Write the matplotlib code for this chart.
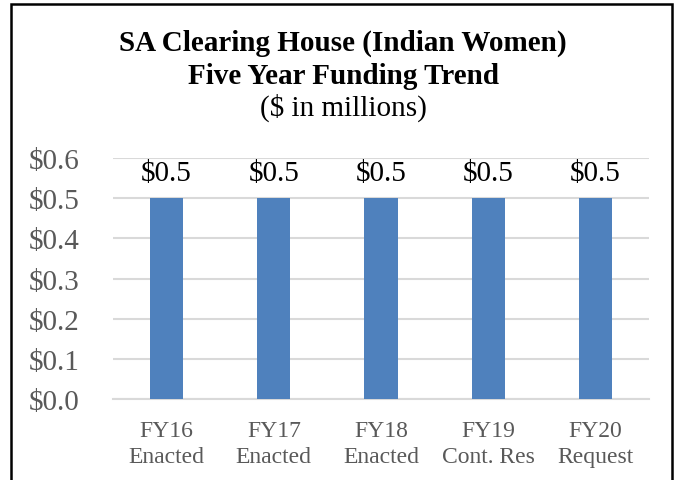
import matplotlib
matplotlib.use("Agg")
import matplotlib.pyplot as plt
from matplotlib.patches import Rectangle

categories = ["FY16\nEnacted", "FY17\nEnacted", "FY18\nEnacted", "FY19\nCont. Res", "FY20\nRequest"]
values = [0.5, 0.5, 0.5, 0.5, 0.5]
yticks = [0.0, 0.1, 0.2, 0.3, 0.4, 0.5, 0.6]
title_lines = ["SA Clearing House (Indian Women)", "Five Year Funding Trend", "($ in millions)"]

W, H = 681, 481
fig = plt.figure(figsize=(W / 100, H / 100), dpi=100)
plt.rcParams['font.family'] = ['Liberation Serif', 'DejaVu Serif']

ax = fig.add_axes([113 / W, 1 - 400 / H, (649 - 113) / W, (400 - 159) / H])
x = list(range(len(categories)))
bars = ax.bar(x, values, width=0.31, color="#4f81bd", zorder=3)
ax.set_ylim(0, 0.6)
ax.set_xlim(-0.5, len(categories) - 0.5)
ax.set_yticks(yticks)
ax.set_yticklabels([f"${v:.1f}" for v in yticks], fontsize=21, color="#595959")
ax.set_xticks(x)
ax.set_xticklabels(categories, fontsize=17, color="#595959", linespacing=1.3)
ax.tick_params(axis="both", length=0)
ax.tick_params(axis="y", pad=24)
ax.tick_params(axis="x", pad=15)
ax.grid(axis="y", color="#d9d9d9", linewidth=1.5, zorder=0)
for s in ["top", "right", "left"]:
    ax.spines[s].set_visible(False)
ax.spines["bottom"].set_color("#d9d9d9")
ax.spines["bottom"].set_linewidth(1.5)

for xi, v in zip(x, values):
    ax.annotate(f"${v:.1f}", (xi, v), xytext=(0, 9), textcoords="offset points",
                ha="center", va="bottom", fontsize=21, color="black")

fig.text(343 / W, 1 - 43 / H, title_lines[0], ha="center", va="center", fontsize=21, fontweight="bold")
fig.text(343 / W, 1 - 77 / H, title_lines[1], ha="center", va="center", fontsize=21, fontweight="bold")
fig.text(343 / W, 1 - 108 / H, title_lines[2], ha="center", va="center", fontsize=21)

fig.patches.append(Rectangle((11 / W, -0.05), (672 - 11) / W, 1.05 - 5 / H, transform=fig.transFigure,
                             fill=False, edgecolor="black", linewidth=1.8))

fig.savefig("out.png", dpi=100)
